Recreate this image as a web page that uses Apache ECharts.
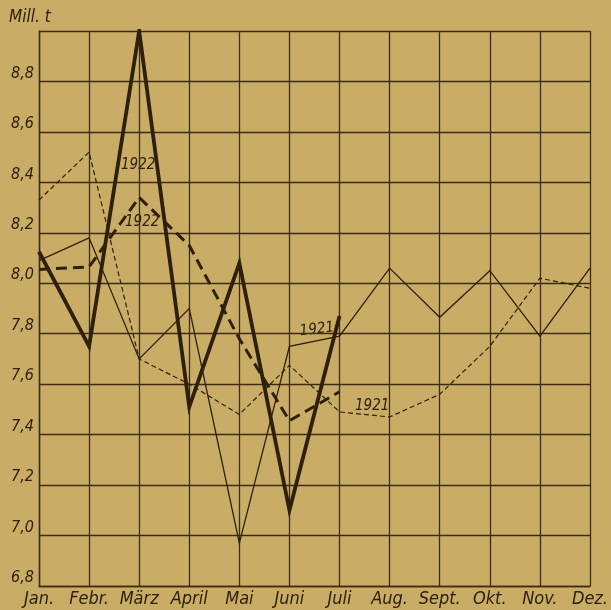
<!DOCTYPE html>
<html>
<head>
<meta charset="utf-8">
<script src="https://cdn.jsdelivr.net/npm/echarts@6/dist/echarts.min.js"></script>
<style>
  html, body { margin: 0; padding: 0; background: #c9ad66; }
  #chart { width: 611px; height: 610px; }
</style>
</head>
<body>
<div id="chart"></div>
<script>
// Monatliche Mengen in Mill. t, 1921 und 1922
const months = ['Jan.', 'Febr.', 'März', 'April', 'Mai', 'Juni', 'Juli', 'Aug.', 'Sept.', 'Okt.', 'Nov.', 'Dez.'];

// dünne Linien: 1921
const solid1921 = [8.09, 8.18, 7.70, 7.90, 6.97, 7.75, 7.79, 8.06, 7.865, 8.05, 7.79, 8.06];
const dashed1921 = [8.33, 8.52, 7.70, 7.60, 7.48, 7.675, 7.49, 7.47, 7.56, 7.75, 8.02, 7.98];

// dicke Linien: 1922 (bis Juli)
const solid1922 = [8.125, 7.75, 9.0, 7.51, 8.08, 7.10, 7.87];
const dashed1922 = [8.055, 8.065, 8.34, 8.15, 7.78, 7.455, 7.57];

const yTicks = [6.8, 7.0, 7.2, 7.4, 7.6, 7.8, 8.0, 8.2, 8.4, 8.6, 8.8, 9.0];

const ink = '#2e200c';
const gridInk = '#3d2c12';
const font = '"Liberation Sans Narrow", "DejaVu Sans Condensed", sans-serif';

const chart = echarts.init(document.getElementById('chart'), null, { renderer: 'canvas' });

function lineSeries(name, data, width, dash) {
  return {
    name: name,
    type: 'line',
    data: data,
    symbol: 'none',
    smooth: false,
    animation: false,
    silent: true,
    lineStyle: {
      color: ink,
      width: width,
      type: dash || 'solid',
      join: 'miter',
      miterLimit: 12,
      cap: 'butt'
    },
    z: 3
  };
}

const labelStyle = { fill: ink, font: 'italic 15px ' + font };

chart.setOption({
  backgroundColor: '#c9ad66',
  animation: false,
  grid: { left: 39, right: 17, top: 31, bottom: 24 },
  xAxis: {
    type: 'category',
    data: months,
    boundaryGap: false,
    axisLine: { show: true, lineStyle: { color: gridInk, width: 1.4 } },
    axisTick: { show: false },
    splitLine: { show: true, lineStyle: { color: gridInk, width: 1.3 } },
    axisLabel: {
      color: ink,
      fontFamily: font,
      fontStyle: 'italic',
      fontSize: 18,
      margin: 4,
      interval: 0
    }
  },
  yAxis: {
    type: 'value',
    min: yTicks[0],
    max: yTicks[yTicks.length - 1],
    interval: 0.2,
    axisLine: { show: true, lineStyle: { color: gridInk, width: 1.4 } },
    axisTick: { show: false },
    splitLine: { show: true, lineStyle: { color: gridInk, width: 1.3 } },
    axisLabel: {
      color: ink,
      fontFamily: font,
      fontStyle: 'italic',
      fontSize: 16,
      margin: 5,
      verticalAlign: 'bottom',
      formatter: function (v) {
        if (Math.abs(v - 9.0) < 1e-6) return '';
        return v.toFixed(1).replace('.', ',');
      }
    }
  },
  graphic: [
    { type: 'text', left: 9, top: 9, style: { text: 'Mill. t', fill: ink, font: 'italic 17px ' + font } },
    { type: 'text', x: 121, y: 158, style: Object.assign({ text: '1922' }, labelStyle) },
    { type: 'text', x: 125, y: 215, style: Object.assign({ text: '1922' }, labelStyle) },
    { type: 'text', x: 299, y: 324, rotation: 0.12, style: Object.assign({ text: '1921' }, labelStyle) },
    { type: 'text', x: 355, y: 399, style: Object.assign({ text: '1921' }, labelStyle) }
  ],
  series: [
    lineSeries('1921', solid1921, 1.3),
    lineSeries('1921 ', dashed1921, 1.2, [5, 3]),
    lineSeries('1922', solid1922, 3.8),
    lineSeries('1922 ', dashed1922, 3.0, [11, 6])
  ]
});
</script>
</body>
</html>
